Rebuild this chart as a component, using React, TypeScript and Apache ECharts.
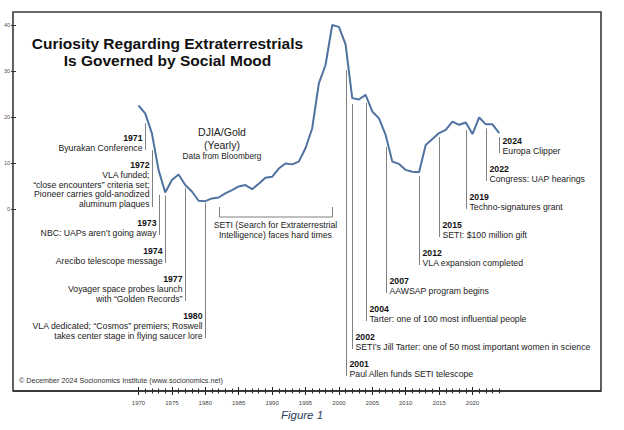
import React, { useEffect, useRef } from "react";
import * as echarts from "echarts";

// ---------- data ----------
const years = [
  1970, 1971, 1972, 1973, 1974, 1975, 1976, 1977, 1978, 1979,
  1980, 1981, 1982, 1983, 1984, 1985, 1986, 1987, 1988, 1989,
  1990, 1991, 1992, 1993, 1994, 1995, 1996, 1997, 1998, 1999,
  2000, 2001, 2002, 2003, 2004, 2005, 2006, 2007, 2008, 2009,
  2010, 2011, 2012, 2013, 2014, 2015, 2016, 2017, 2018, 2019,
  2020, 2021, 2022, 2023, 2024,
];
const djiaGold = [
  22.5, 20.8, 16.5, 8.5, 3.6, 6.3, 7.5, 5.2, 3.8, 1.8,
  1.7, 2.3, 2.5, 3.4, 4.1, 4.9, 5.2, 4.3, 5.5, 6.8,
  7.0, 8.8, 9.9, 9.7, 10.3, 13.2, 17.5, 27.3, 31.3, 40.0,
  39.6, 35.8, 24.1, 23.8, 24.8, 21.2, 19.7, 16.1, 10.3, 9.8,
  8.5, 8.1, 8.0, 13.9, 15.2, 16.5, 17.2, 19.0, 18.3, 18.8,
  16.3, 19.9, 18.4, 18.4, 16.5,
];
const tickYears = years.map(String);

const annYears = [1971, 1972, 1973, 1974, 1977, 1980, 2001, 2002, 2004, 2007, 2012, 2015, 2019, 2022, 2024];
const annTexts = [
  ["Byurakan Conference"],
  ["VLA funded;", "\u201Cclose encounters\u201D criteria set;", "Pioneer carries gold-anodized", "aluminum plaques"],
  ["NBC: UAPs aren\u2019t going away"],
  ["Arecibo telescope message"],
  ["Voyager space probes launch", "with \u201CGolden Records\u201D"],
  ["VLA dedicated; \u201CCosmos\u201D premiers; Roswell", "takes center stage in flying saucer lore"],
  ["Paul Allen funds SETI telescope"],
  ["SETI\u2019s Jill Tarter: one of 50 most important women in science"],
  ["Tarter: one of 100 most influential people"],
  ["AAWSAP program begins"],
  ["VLA expansion completed"],
  ["SETI: $100 million gift"],
  ["Techno-signatures grant"],
  ["Congress: UAP hearings"],
  ["Europa Clipper"],
];
const setiBracketYears = [1982, 1999];
const setiText = ["SETI (Search for Extraterrestrial", "Intelligence) faces hard times"];
const titleLines = ["Curiosity Regarding Extraterrestrials", "Is Governed by Social Mood"];
const seriesLabel = ["DJIA/Gold", "(Yearly)", "Data from Bloomberg"];
const copyright = "\u00A9 December 2024 Socionomics Institute (www.socionomics.net)";
const figureLabel = "Figure 1";

// ---------- layout (positions only) ----------
const annLayout = [
  { side: "left", yearY: 138, gap: 10 },
  { side: "left", yearY: 165, gap: 17 },
  { side: "left", yearY: 223, gap: 25 },
  { side: "left", yearY: 251, gap: 3 },
  { side: "left", yearY: 279, gap: 3 },
  { side: "left", yearY: 316, gap: 2 },
  { side: "right", yearY: 364, gap: 26 },
  { side: "right", yearY: 337, gap: 6 },
  { side: "right", yearY: 309, gap: 8 },
  { side: "right", yearY: 281, gap: 12 },
  { side: "right", yearY: 253, gap: 4 },
  { side: "right", yearY: 225, gap: 4 },
  { side: "right", yearY: 197, gap: 7.5 },
  { side: "right", yearY: 169, gap: 4 },
  { side: "right", yearY: 141, gap: 4 },
];

const FONT = '"Liberation Sans", Arial, sans-serif';
const ANN_SIZE = 8.7;
const PX_PER_YEAR = 360.7 / 54;
const X_MIN = 1970 - (138.5 - 13) / PX_PER_YEAR;
const X_MAX = 2024 + (601 - 499.2) / PX_PER_YEAR;

export default function App() {
  const ref = useRef<HTMLDivElement>(null);

  useEffect(() => {
    if (!ref.current) return;
    const chart = echarts.init(ref.current, undefined, { renderer: "svg" });

    const annData = annYears.map((y) => [y, djiaGold[years.indexOf(y)]]);

    const option: any = {
      animation: false,
      backgroundColor: "#ffffff",
      grid: [
        { left: 13, width: 588, top: 25, height: 184, outerBoundsMode: "none", containLabel: false },
        { left: 138.5, width: 360.7, top: 370, bottom: 39, outerBoundsMode: "none", containLabel: false },
      ],
      xAxis: [
        { type: "value", gridIndex: 0, min: X_MIN, max: X_MAX, show: false },
        {
          type: "category",
          gridIndex: 1,
          position: "bottom",
          data: tickYears,
          boundaryGap: false,
          offset: -4,
          axisLine: { show: false, onZero: false },
          axisTick: { show: true, interval: 4, length: 8, lineStyle: { color: "#222", width: 1 } },
          axisLabel: { show: true, interval: 4, fontSize: 6, color: "#444", margin: 13, fontFamily: FONT },
          splitLine: { show: false },
        },
        {
          type: "category",
          gridIndex: 1,
          position: "bottom",
          data: tickYears,
          boundaryGap: false,
          offset: -2.5,
          axisLine: { show: false, onZero: false },
          axisTick: { show: true, interval: 0, length: 5, lineStyle: { color: "#222", width: 1 } },
          axisLabel: { show: false },
          splitLine: { show: false },
        },
      ],
      yAxis: [
        {
          type: "value",
          gridIndex: 0,
          min: 0,
          max: 40,
          interval: 10,
          position: "left",
          offset: 2,
          axisLine: { show: false, onZero: false },
          axisTick: { show: true, inside: true, length: 5, lineStyle: { color: "#333", width: 1 } },
          axisLabel: { show: true, fontSize: 5.5, color: "#555", margin: 1, fontFamily: FONT },
          splitLine: { show: false },
        },
        { type: "value", gridIndex: 1, show: false },
      ],
      graphic: {
        elements: [
          {
            type: "rect",
            z: 10,
            shape: { x: 13, y: 12, width: 588, height: 379 },
            style: { fill: "none", stroke: "#3a3a3a", lineWidth: 1.6 },
            silent: true,
          },
          {
            type: "rect",
            z: 11,
            shape: { x: 13, y: 390.2, width: 588, height: 1.6 },
            style: { fill: "#2a2a2a" },
            silent: true,
          },
          ...titleLines.map((t, i) => ({
            type: "text",
            x: 167.5,
            y: 43 + i * 17,
            style: { text: t, fontSize: 15.5, fontWeight: "bold", fontFamily: FONT, fill: "#111", align: "center", verticalAlign: "middle" },
          })),
          {
            type: "text",
            x: 222,
            y: 132,
            style: { text: seriesLabel[0], fontSize: 10.5, fontFamily: FONT, fill: "#222", align: "center", verticalAlign: "middle" },
          },
          {
            type: "text",
            x: 222,
            y: 145,
            style: { text: seriesLabel[1], fontSize: 10.5, fontFamily: FONT, fill: "#222", align: "center", verticalAlign: "middle" },
          },
          {
            type: "text",
            x: 222,
            y: 155.5,
            style: { text: seriesLabel[2], fontSize: 8.3, fontFamily: FONT, fill: "#222", align: "center", verticalAlign: "middle" },
          },
          {
            type: "text",
            x: 19,
            y: 380,
            style: { text: copyright, fontSize: 7.2, fontFamily: FONT, fill: "#333", align: "left", verticalAlign: "middle" },
          },
          {
            type: "text",
            x: 302,
            y: 415,
            style: { text: figureLabel, fontSize: 11.5, fontStyle: "italic", fontFamily: FONT, fill: "#2b3c5c", align: "center", verticalAlign: "middle" },
          },
        ],
      },
      series: [
        {
          type: "line",
          xAxisIndex: 0,
          yAxisIndex: 0,
          data: years.map((y, i) => [y, djiaGold[i]]),
          symbol: "none",
          smooth: false,
          clip: false,
          lineStyle: { color: "#4f72a0", width: 2 },
          silent: true,
          z: 5,
        },
        {
          type: "custom",
          xAxisIndex: 0,
          yAxisIndex: 0,
          data: annData,
          clip: false,
          silent: true,
          z: 3,
          renderItem: (params: any, api: any) => {
            const i = params.dataIndex;
            const pt = api.coord([api.value(0), api.value(1)]);
            const L = annLayout[i];
            const lines = annTexts[i];
            const x = Math.round(pt[0]) + 0.5;
            const top = pt[1] + L.gap;
            const bottom = L.yearY + 10 * lines.length + 2;
            const left = L.side === "left";
            const tx = left ? x - 3 : x + 3;
            const align = left ? "right" : "left";
            return {
              type: "group",
              children: [
                { type: "line", shape: { x1: x, y1: top, x2: x, y2: bottom }, style: { stroke: "#808080", lineWidth: 1 } },
                {
                  type: "text",
                  x: tx,
                  y: L.yearY,
                  style: { text: String(annYears[i]), fontSize: ANN_SIZE, fontWeight: "bold", fontFamily: FONT, fill: "#111", align, verticalAlign: "middle" },
                },
                {
                  type: "text",
                  x: tx,
                  y: L.yearY + 10 - 4.85,
                  style: { text: lines.join("\n"), fontSize: ANN_SIZE, lineHeight: 9.7, fontFamily: FONT, fill: "#222", align, verticalAlign: "top" },
                },
              ],
            };
          },
        },
        {
          type: "custom",
          xAxisIndex: 0,
          yAxisIndex: 0,
          data: [setiBracketYears],
          clip: false,
          silent: true,
          z: 3,
          renderItem: (params: any, api: any) => {
            const p1 = api.coord([api.value(0), 0]);
            const p2 = api.coord([api.value(1), 0]);
            const x1 = Math.round(p1[0]) + 0.5;
            const x2 = Math.round(p2[0]) + 0.5;
            const yTop = p1[1] - 2;
            const yBot = p1[1] + 8;
            const cx = (p1[0] + p2[0]) / 2;
            return {
              type: "group",
              children: [
                {
                  type: "polyline",
                  shape: { points: [[x1, yTop], [x1, yBot], [x2, yBot], [x2, yTop]] },
                  style: { stroke: "#808080", lineWidth: 1, fill: "none" },
                },
                ...setiText.map((t, k) => ({
                  type: "text",
                  x: cx,
                  y: yBot + 8 + k * 10,
                  style: { text: t, fontSize: ANN_SIZE, fontFamily: FONT, fill: "#222", align: "center", verticalAlign: "middle" },
                })),
              ],
            };
          },
        },
      ],
    };

    chart.setOption(option);
    return () => chart.dispose();
  }, []);

  return (
    <div
      ref={ref}
      style={{ position: "fixed", left: 0, top: 0, width: 624, height: 430, background: "#fff" }}
    />
  );
}
